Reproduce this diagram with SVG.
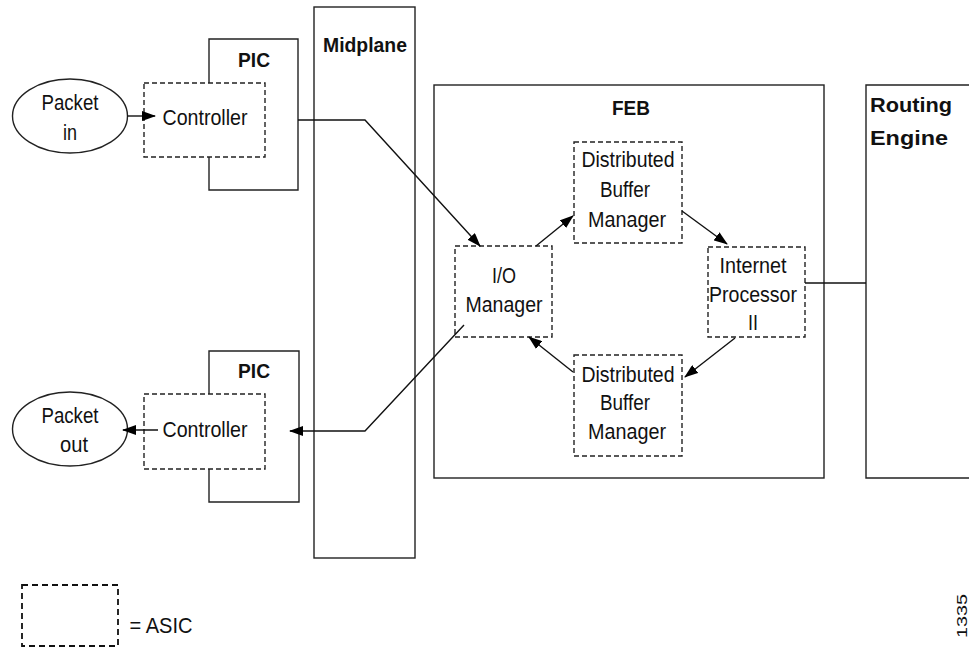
<svg xmlns="http://www.w3.org/2000/svg" width="969" height="650" viewBox="0 0 969 650">
<defs>
<marker id="ah" markerWidth="14" markerHeight="10" refX="13" refY="5" orient="auto" markerUnits="userSpaceOnUse">
<path d="M0,0 L14,5 L0,10 Z" fill="#000"/>
</marker>
<style>
.s{fill:none;stroke:#222;stroke-width:1.4}
.d{fill:none;stroke:#222;stroke-width:1.4;stroke-dasharray:5 3}
.t{font-family:"Liberation Sans",Arial,sans-serif;font-size:22px;fill:#111;text-anchor:middle}
.b{font-family:"Liberation Sans",Arial,sans-serif;font-size:21px;font-weight:bold;fill:#111;text-anchor:middle}
.c{fill:none;stroke:#111;stroke-width:1.4}
</style>
</defs>
<rect width="969" height="650" fill="#fff"/>

<g id="midplane">
<rect class="s" x="314" y="7" width="101" height="551"/>
<text class="b" x="365" y="52" textLength="84" lengthAdjust="spacingAndGlyphs">Midplane</text>
</g>

<g id="pic-top">
<path class="s" d="M209,83 V39 H298 V190 H209 V157"/>
<text class="b" x="254" y="67" textLength="32" lengthAdjust="spacingAndGlyphs">PIC</text>
</g>
<g id="controller-top">
<rect class="d" x="144" y="83" width="121" height="74"/>
<text class="t" x="205" y="125" textLength="85" lengthAdjust="spacingAndGlyphs">Controller</text>
</g>
<g id="packet-in">
<ellipse class="s" cx="70" cy="116" rx="57.5" ry="37"/>
<text class="t" x="70" y="110" textLength="57" lengthAdjust="spacingAndGlyphs">Packet</text>
<text class="t" x="70" y="140" textLength="14" lengthAdjust="spacingAndGlyphs">in</text>
</g>

<g id="pic-bottom">
<path class="s" d="M209,394 V351 H299 V502 H209 V469"/>
<text class="b" x="254" y="378" textLength="32" lengthAdjust="spacingAndGlyphs">PIC</text>
</g>
<g id="controller-bottom">
<rect class="d" x="144" y="394" width="121" height="75"/>
<text class="t" x="205" y="437" textLength="85" lengthAdjust="spacingAndGlyphs">Controller</text>
</g>
<g id="packet-out">
<ellipse class="s" cx="70" cy="429" rx="57.5" ry="37"/>
<text class="t" x="70" y="423" textLength="57" lengthAdjust="spacingAndGlyphs">Packet</text>
<text class="t" x="74" y="452" textLength="28" lengthAdjust="spacingAndGlyphs">out</text>
</g>

<g id="feb">
<rect class="s" x="434" y="85" width="390" height="393"/>
<text class="b" x="631" y="115" textLength="38" lengthAdjust="spacingAndGlyphs">FEB</text>
</g>
<g id="dbm-top">
<rect class="d" x="574" y="142" width="108" height="101"/>
<text class="t" x="628" y="167" textLength="93" lengthAdjust="spacingAndGlyphs">Distributed</text>
<text class="t" x="625" y="197" textLength="50" lengthAdjust="spacingAndGlyphs">Buffer</text>
<text class="t" x="627" y="227" textLength="78" lengthAdjust="spacingAndGlyphs">Manager</text>
</g>
<g id="io-manager">
<rect class="d" x="455" y="246" width="97" height="91"/>
<text class="t" x="504" y="283" textLength="24" lengthAdjust="spacingAndGlyphs">I/O</text>
<text class="t" x="504" y="312" textLength="77" lengthAdjust="spacingAndGlyphs">Manager</text>
</g>
<g id="internet-processor">
<rect class="d" x="708" y="247" width="97" height="90"/>
<text class="t" x="753" y="273" textLength="67" lengthAdjust="spacingAndGlyphs">Internet</text>
<text class="t" x="753" y="302" textLength="88" lengthAdjust="spacingAndGlyphs">Processor</text>
<text class="t" x="753" y="330" textLength="10" lengthAdjust="spacingAndGlyphs">II</text>
</g>
<g id="dbm-bottom">
<rect class="d" x="574" y="355" width="108" height="101"/>
<text class="t" x="628" y="382" textLength="93" lengthAdjust="spacingAndGlyphs">Distributed</text>
<text class="t" x="625" y="410" textLength="50" lengthAdjust="spacingAndGlyphs">Buffer</text>
<text class="t" x="627" y="439" textLength="78" lengthAdjust="spacingAndGlyphs">Manager</text>
</g>

<g id="routing-engine">
<path class="s" d="M975,85 H866 V478 H975"/>
<text class="b" x="911" y="112" textLength="82" lengthAdjust="spacingAndGlyphs">Routing</text>
<text class="b" x="909" y="145" textLength="78" lengthAdjust="spacingAndGlyphs">Engine</text>
</g>

<g id="legend">
<rect x="22" y="585" width="96" height="61" fill="none" stroke="#111" stroke-width="1.8" stroke-dasharray="6 4"/>
<text class="t" x="161" y="633" textLength="63" lengthAdjust="spacingAndGlyphs">= ASIC</text>
<text x="967" y="616" transform="rotate(-90 967 616)" font-family="'Liberation Sans',Arial,sans-serif" font-size="14" text-anchor="middle" fill="#111" textLength="44" lengthAdjust="spacingAndGlyphs">1335</text>
</g>

<g id="connectors">
<line class="c" x1="127" y1="116" x2="155" y2="116" marker-end="url(#ah)"/>
<polyline class="c" points="298,120 365,120 480,246" marker-end="url(#ah)"/>
<line class="c" x1="536" y1="246" x2="573" y2="216" marker-end="url(#ah)"/>
<line class="c" x1="682" y1="211" x2="727" y2="244" marker-end="url(#ah)"/>
<line class="c" x1="735" y1="338" x2="685" y2="377" marker-end="url(#ah)"/>
<line class="c" x1="573" y1="372" x2="529" y2="337" marker-end="url(#ah)"/>
<polyline class="c" points="464,325 365,431 290,431" marker-end="url(#ah)"/>
<line class="c" x1="158" y1="430" x2="123" y2="430" marker-end="url(#ah)"/>
<line class="c" x1="805" y1="283" x2="866" y2="283"/>
</g>
</svg>
